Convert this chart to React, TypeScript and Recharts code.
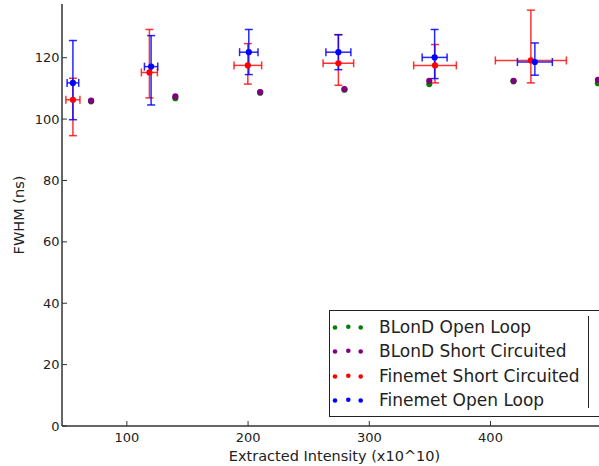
import React from 'react';
import { ScatterChart, Scatter, XAxis, YAxis, ErrorBar, Legend, Label } from 'recharts';

const xTicks = [100, 200, 300, 400];
const yTicks = [0, 20, 40, 60, 80, 100, 120];

// BLonD simulation points (no error bars)
const blondX = [70.5, 140, 210, 279.5, 349.5, 419, 488.6];
const blondOpenY = [105.8, 106.8, 108.6, 109.6, 111.4, 112.3, 111.7];
const blondShortY = [106, 107.4, 108.8, 109.8, 112.5, 112.5, 112.8];

// Finemet short circuited
const shortX = [55.5, 118.6, 199.8, 274.5, 354.2, 433.3];
const shortY = [106.3, 115.2, 117.5, 118.2, 117.5, 119.1];
const shortXErr = [5.8, 6.6, 11.4, 12.6, 17.6, 29.3];
const shortYErrLow = [11.7, 8.3, 6.1, 7.2, 5.7, 7.3];
const shortYErrHigh = [7, 14, 7.1, 9.3, 6.8, 16.4];

// Finemet open loop
const openX = [55.5, 120, 200.6, 274.5, 353.9, 436.6];
const openY = [111.8, 117.1, 121.8, 121.8, 120.1, 118.6];
const openXErr = [4.8, 5.5, 7.6, 10.3, 10.3, 14.4];
const openYErrLow = [12, 12.5, 7.3, 5.7, 6.9, 4.3];
const openYErrHigh = [13.8, 10.1, 7.4, 5.7, 9.1, 6.2];

const legendItems = [
  { name: 'BLonD Open Loop', color: '#008000' },
  { name: 'BLonD Short Circuited', color: '#800080' },
  { name: 'Finemet Short Circuited', color: '#ff0000' },
  { name: 'Finemet Open Loop', color: '#0000ff' },
];

const points = (xs: number[], ys: number[]) => xs.map((x, i) => ({ x, y: ys[i] }));
const withErrors = (xs: number[], ys: number[], xe: number[], lo: number[], hi: number[]) =>
  xs.map((x, i) => ({ x, y: ys[i], xErr: xe[i], yErr: [lo[i], hi[i]] }));

const dot = (color: string) => (p: any) => <circle cx={p.cx} cy={p.cy} r={3.1} fill={color} />;

const axisStroke = '#333';
const tickStyle = { fill: '#222', fontSize: 13 };

function LegendBox() {
  return (
    <div style={{
      width: 290, height: 107, border: '1.2px solid #222', background: '#fff',
      boxSizing: 'border-box', position: 'relative', fontSize: 17, color: '#222',
    }}>
      {legendItems.map((item, i) => (
        <div key={item.name} style={{
          position: 'absolute', left: 0, top: 3.7 + i * 24.4, height: 24,
          display: 'flex', alignItems: 'center', whiteSpace: 'nowrap',
        }}>
          <svg width={48} height={24} style={{ display: 'block' }}>
            <circle cx={5} cy={12.5} r={2.3} fill={item.color} />
            <circle cx={18.3} cy={11.8} r={2.3} fill={item.color} />
            <circle cx={30.7} cy={12.5} r={2.3} fill={item.color} />
          </svg>
          <span style={{ marginLeft: 1 }}>{item.name}</span>
        </div>
      ))}
      <div style={{ position: 'absolute', left: 257.5, top: 5, width: 1.5, height: 92, background: '#222' }} />
    </div>
  );
}

export default function App() {
  return (
    <div style={{
      position: 'absolute', left: 0, top: 0, width: 599, height: 466,
      overflow: 'hidden', background: '#fff', fontFamily: '"DejaVu Sans", sans-serif',
    }}>
      <ScatterChart width={599} height={466} margin={{ top: 4, right: 0, bottom: 0, left: 0 }}>
        <XAxis
          type="number" dataKey="x" domain={[46.5, 489.5]} allowDataOverflow ticks={xTicks}
          height={40} tickSize={-5} tickMargin={12} tick={tickStyle}
          axisLine={{ stroke: axisStroke, strokeWidth: 1.5 }} tickLine={{ stroke: axisStroke }}
        >
          <Label content={({ viewBox }: any) => (
            <text x={viewBox.x + viewBox.width / 2 + 4} y={456} textAnchor="middle"
              dominantBaseline="central" fontSize={14.5} fill="#222">
              Extracted Intensity (x10^10)
            </text>
          )} />
        </XAxis>
        <XAxis
          xAxisId="top" orientation="top" type="number" dataKey="x" domain={[46.5, 489.5]}
          allowDataOverflow ticks={xTicks} height={0} tickSize={-5} tick={false}
          axisLine={{ stroke: '#555', strokeWidth: 2 }} tickLine={{ stroke: axisStroke }}
        />
        <YAxis
          type="number" dataKey="y" domain={[0, 137.5]} allowDataOverflow ticks={yTicks}
          width={62} tickSize={-5} tickMargin={7.5} tick={tickStyle}
          axisLine={{ stroke: axisStroke, strokeWidth: 1.5 }} tickLine={{ stroke: axisStroke }}
        >
          <Label content={({ viewBox }: any) => {
            const cx = 18.5;
            const cy = viewBox.y + viewBox.height / 2;
            return (
              <text x={cx} y={cy} transform={`rotate(-90 ${cx} ${cy})`} textAnchor="middle"
                dominantBaseline="central" fontSize={14.5} fill="#222">
                FWHM (ns)
              </text>
            );
          }} />
        </YAxis>

        <Scatter name="BLonD Open Loop" data={points(blondX, blondOpenY)} fill="#008000"
          shape={dot('#008000')} isAnimationActive={false} />
        <Scatter name="BLonD Short Circuited" data={points(blondX, blondShortY)} fill="#800080"
          shape={dot('#800080')} isAnimationActive={false} />
        <Scatter name="Finemet Short Circuited"
          data={withErrors(shortX, shortY, shortXErr, shortYErrLow, shortYErrHigh)}
          fill="#ff0000" shape={dot('#ff0000')} isAnimationActive={false}>
          <ErrorBar dataKey="yErr" direction="y" width={4} stroke="#ff0000" strokeWidth={1.5}
            strokeOpacity={0.8} isAnimationActive={false} />
          <ErrorBar dataKey="xErr" direction="x" width={4} stroke="#ff0000" strokeWidth={1.5}
            strokeOpacity={0.8} isAnimationActive={false} />
        </Scatter>
        <Scatter name="Finemet Open Loop"
          data={withErrors(openX, openY, openXErr, openYErrLow, openYErrHigh)}
          fill="#0000ff" shape={dot('#0000ff')} isAnimationActive={false}>
          <ErrorBar dataKey="yErr" direction="y" width={4} stroke="#0000ff" strokeWidth={1.5}
            strokeOpacity={0.85} isAnimationActive={false} />
          <ErrorBar dataKey="xErr" direction="x" width={4} stroke="#0000ff" strokeWidth={1.5}
            strokeOpacity={0.85} isAnimationActive={false} />
        </Scatter>

        <Legend
          layout="vertical" align="center" verticalAlign="middle"
          wrapperStyle={{ position: 'absolute', left: 329, top: 310, width: 290, height: 107 }}
          content={() => <LegendBox />}
        />
      </ScatterChart>
    </div>
  );
}
